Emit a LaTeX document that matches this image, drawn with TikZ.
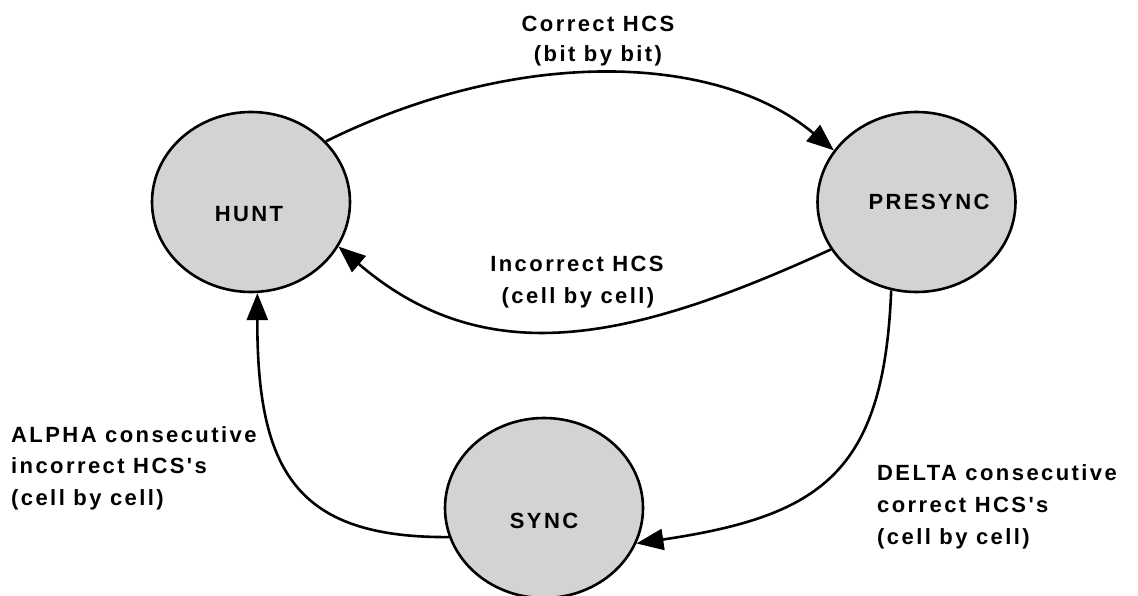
\documentclass[tikz,border=0pt]{standalone}
\usepackage{fontspec}
\usetikzlibrary{shapes.geometric,arrows.meta}
\newfontfamily\lblfont[LetterSpace=11,BoldFont={Liberation Sans Bold}]{Liberation Sans}
\definecolor{stategray}{RGB}{211,211,211}
\tikzset{
  state/.style={ellipse, draw=black, line width=2.6pt, fill=stategray,
    minimum width=198pt, minimum height=180pt, inner sep=0pt},
  lbl/.style={font=\lblfont\bfseries\fontsize{22}{31.5}\selectfont, inner sep=0pt, anchor=base},
  lblw/.style={lbl, anchor=base west},
  trans/.style={line width=2.6pt, -{Triangle[length=27pt,width=21pt]}},
}
\begin{document}
\begin{tikzpicture}[x=1pt,y=-1pt]
\useasboundingbox[fill=white] (0,0) rectangle (1138,596);
% states
\node[state] (hunt) at (251,202) {};
\node[state] (presync) at (916.5,202) {};
\node[state] (sync) at (544,508) {};
\node[lbl] (huntt) at (249,222) {HUNT};
\node[lbl] (presynct) at (929,210) {PRESYNC};
\node[lbl] (synct) at (544,528) {SYNC};
% transitions
\draw[trans] (hunt.39) .. controls (521,45) and (719,54) .. (presync.148);
\draw[trans] (presync.-151.5) .. controls (633,340) and (487,374) .. (hunt.-27.6);
\draw[trans] (presync.-106) .. controls (884,473) and (821,516) .. (sync.-21);
\draw[trans] (sync.-163) .. controls (297,538) and (257,472) .. (hunt.-86);
% labels
\node[lbl] (l1a) at (598,32) {Correct HCS};
\node[lbl] (l1b) at (598,62) {(bit by bit)};
\node[lbl] (l2a) at (577,272) {Incorrect HCS};
\node[lbl] (l2b) at (578,303) {(cell by cell)};
\node[lblw] (l3a) at (11,442) {ALPHA consecutive};
\node[lblw] (l3b) at (11,473.5) {incorrect HCS's};
\node[lblw] (l3c) at (11,505) {(cell by cell)};
\node[lblw] (l4a) at (877,480) {DELTA consecutive};
\node[lblw] (l4b) at (877,512) {correct HCS's};
\node[lblw] (l4c) at (877,544) {(cell by cell)};
\end{tikzpicture}
\end{document}
